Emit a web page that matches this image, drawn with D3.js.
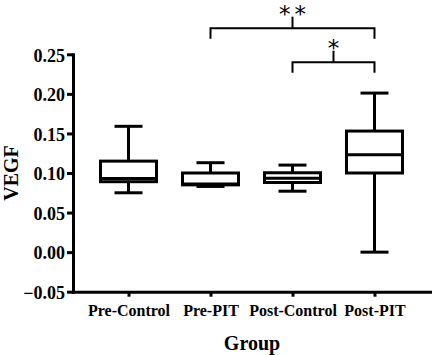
<!DOCTYPE html>
<html>
<head>
<meta charset="utf-8">
<script src="https://cdn.jsdelivr.net/npm/d3@7"></script>
<style>
  html, body { margin: 0; padding: 0; background: #fff; }
  svg { display: block; }
  text { font-family: "Liberation Serif", "Times New Roman", serif; font-weight: bold; fill: #000; }
</style>
</head>
<body>
<svg id="chart" width="433" height="355"></svg>
<script>
// ---- data ----
const categories = ["Pre-Control", "Pre-PIT", "Post-Control", "Post-PIT"];
const whiskerMin = [0.075, 0.083, 0.077, 0.000];
const q1Values   = [0.089, 0.085, 0.088, 0.100];
const medians    = [0.093, 0.086, 0.0935, 0.123];
const q3Values   = [0.115, 0.100, 0.1003, 0.153];
const whiskerMax = [0.159, 0.113, 0.110, 0.201];
const yTicks = [-0.05, 0.00, 0.05, 0.10, 0.15, 0.20, 0.25];
const yLabel = "VEGF";
const xLabel = "Group";
// significance brackets: [from category, to category, bar level, label]
const brackets = [
  { from: "Pre-PIT", to: "Post-PIT", level: 0.283, label: "**" },
  { from: "Post-Control", to: "Post-PIT", level: 0.240, label: "*" }
];

// ---- layout ----
const svg = d3.select("#chart");
const x = d3.scalePoint().domain(categories).range([73, 430]).padding(0.677);
const y = d3.scaleLinear().domain([-0.05, 0.25]).range([291.7, 54.3]);

const boxW = 56, capW = 28, lw = 3;

// axes
const yAxis = d3.axisLeft(y).tickValues(yTicks).tickFormat(d3.format(".2f")).tickSize(6).tickSizeOuter(0).tickPadding(2);
const gy = svg.append("g").attr("transform", "translate(73,0)").call(yAxis);
gy.selectAll("text").attr("font-size", 18).attr("dy", "0.38em")
  .style("font-family", '"Liberation Serif", serif').style("font-weight", "bold");

const xAxis = d3.axisBottom(x).tickSize(5).tickSizeOuter(0).tickPadding(7.5);
const gx = svg.append("g").attr("transform", "translate(0,291.7)").call(xAxis);
gx.selectAll("text").attr("font-size", 16)
  .style("font-family", '"Liberation Serif", serif').style("font-weight", "bold");

[gx, gy].forEach(g => {
  g.select(".domain").attr("stroke", "#000").attr("stroke-width", lw).attr("stroke-linecap", "square");
  g.selectAll(".tick line").attr("stroke", "#000").attr("stroke-width", lw);
});

// axis titles
svg.append("text").attr("x", 252).attr("y", 350).attr("text-anchor", "middle")
  .attr("font-size", 20).text(xLabel);
svg.append("text").attr("transform", `translate(18,${(y(-0.05) + y(0.25)) / 2}) rotate(-90)`)
  .attr("text-anchor", "middle").attr("font-size", 20).text(yLabel);

// boxes
const boxes = categories.map((c, i) => ({
  c, min: whiskerMin[i], q1: q1Values[i], med: medians[i], q3: q3Values[i], max: whiskerMax[i]
}));
const g = svg.append("g").attr("stroke", "#000").attr("stroke-width", lw);
boxes.forEach(b => {
  const cx = x(b.c);
  g.append("line").attr("x1", cx).attr("x2", cx).attr("y1", y(b.max)).attr("y2", y(b.q3));
  g.append("line").attr("x1", cx).attr("x2", cx).attr("y1", y(b.q1)).attr("y2", y(b.min));
  g.append("line").attr("x1", cx - capW / 2).attr("x2", cx + capW / 2).attr("y1", y(b.max)).attr("y2", y(b.max));
  g.append("line").attr("x1", cx - capW / 2).attr("x2", cx + capW / 2).attr("y1", y(b.min)).attr("y2", y(b.min));
  g.append("rect").attr("x", cx - boxW / 2).attr("width", boxW)
    .attr("y", y(b.q3)).attr("height", y(b.q1) - y(b.q3)).attr("fill", "#fff");
  g.append("line").attr("x1", cx - boxW / 2).attr("x2", cx + boxW / 2).attr("y1", y(b.med)).attr("y2", y(b.med));
});

// significance brackets
const bg = svg.append("g").attr("stroke", "#000").attr("stroke-width", 2).attr("fill", "none");
brackets.forEach(br => {
  const x1 = x(br.from), x2 = x(br.to), yy = y(br.level);
  const drop = 10.5, rise = 11.5;
  bg.append("path").attr("d", `M${x1},${yy + drop}V${yy}H${x2}V${yy + drop}`);
  const mid = (x1 + x2) / 2;
  bg.append("line").attr("x1", mid).attr("x2", mid).attr("y1", yy).attr("y2", yy - rise);
  const n = br.label.length;
  for (let k = 0; k < n; k++) {
    svg.append("text").attr("x", mid + (k - (n - 1) / 2) * 15.4).attr("y", yy - 6.6)
      .attr("text-anchor", "middle").attr("font-size", 23)
      .style("font-family", '"DejaVu Sans", sans-serif').style("font-weight", "normal")
      .text("*");
  }
});
</script>
</body>
</html>
